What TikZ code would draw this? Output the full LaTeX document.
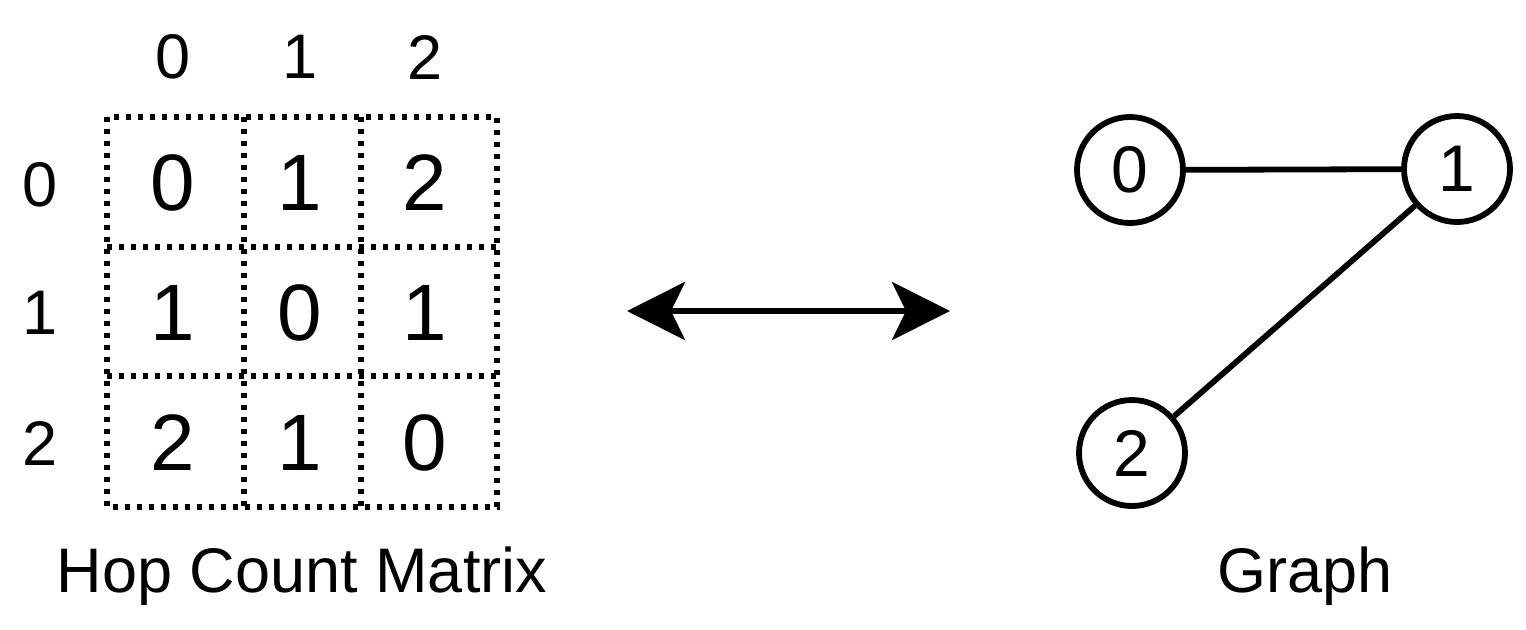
\documentclass[tikz,border=0pt]{standalone}
\usepackage{fontspec}
\setmainfont{Liberation Sans}
\usetikzlibrary{arrows.meta}
\begin{document}
\begin{tikzpicture}[x=0.5pt,y=-0.5pt,
  big/.style={font=\fontsize{40}{40}\selectfont, inner sep=0pt},
  lab/.style={font=\fontsize{31.5}{32}\selectfont, inner sep=0pt},
  cellline/.style={line width=2.8pt, dash pattern=on 2.6pt off 3.4pt},
  vertex/.style={circle, draw, line width=2.9pt, minimum size=53pt, inner sep=0pt, font=\fontsize{33}{33}\selectfont},
  edge/.style={line width=2.9pt}]
\useasboundingbox (0,0) rectangle (1526,629);
% matrix grid
\draw[cellline] (107,117) rectangle (497,507);
\draw[cellline] (244,117) -- (244,507);
\draw[cellline] (361,117) -- (361,507);
\draw[cellline] (107,247) -- (497,247);
\draw[cellline] (107,376) -- (497,376);
% cell values
\node[big] (c00) at (173,183) {0};
\node[big] (c01) at (300,183) {1};
\node[big] (c02) at (425,183) {2};
\node[big] (c10) at (173,313) {1};
\node[big] (c11) at (300,313) {0};
\node[big] (c12) at (425,313) {1};
\node[big] (c20) at (173,443) {2};
\node[big] (c21) at (300,443) {1};
\node[big] (c22) at (425,443) {0};
% headers
\node[lab] (h0) at (173,57) {0};
\node[lab] (h1) at (300,57) {1};
\node[lab] (h2) at (425,57) {2};
\node[lab] (r0) at (40,185) {0};
\node[lab] (r1) at (40,313) {1};
\node[lab] (r2) at (40,443) {2};
\node[lab] (title1) at (302,576) {Hop Count Matrix};
\node[lab] (title2) at (1305,576) {Graph};
% arrow
\coordinate (aL) at (627,311);
\coordinate (aR) at (950,311);
\draw[line width=2.9pt, {Stealth[length=29pt,width=29pt,inset=7pt]}-{Stealth[length=29pt,width=29pt,inset=7pt]}] (aL) -- (aR);
% graph
\node[vertex] (n0) at (1130,170) {0};
\node[vertex] (n1) at (1457,169) {1};
\node[vertex] (n2) at (1132,453) {2};
\draw[edge] (n0) -- (n1);
\draw[edge] (n1) -- (n2);
\end{tikzpicture}
\end{document}
